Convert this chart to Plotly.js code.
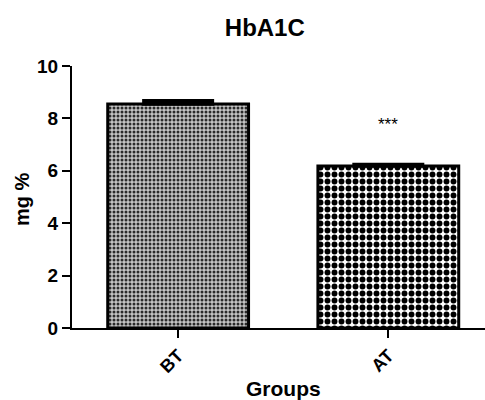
<!DOCTYPE html>
<html>
<head>
<meta charset="utf-8">
<script src="https://cdn.plot.ly/plotly-3.0.1.min.js"></script>
<style>html,body{margin:0;padding:0;background:#fff;}#chart{width:485px;height:400px;}</style>
</head>
<body>
<div id="chart"></div>
<script>
const categories = ["BT", "AT"];
const means = [8.55, 6.18];
const sem = [0.12, 0.06];
const significance = ["", "***"];

const F = "Liberation Sans, Arial, sans-serif";

const traceBT = {
  type: "bar",
  x: [categories[0]],
  y: [means[0]],
  width: 0.67,
  error_y: {type: "data", symmetric: false, array: [sem[0]], arrayminus: [0], visible: true, color: "#000", thickness: 3.5, width: 36},
  marker: {
    color: "#999",
    line: {color: "#000", width: 3},
    pattern: {shape: ".", size: 4, solidity: 0.45, fgcolor: "#2a2a2a", bgcolor: "#c4c4c4", fillmode: "replace"}
  },
  showlegend: false,
  hoverinfo: "skip"
};
const traceAT = {
  type: "bar",
  x: [categories[1]],
  y: [means[1]],
  width: 0.67,
  error_y: {type: "data", symmetric: false, array: [sem[1]], arrayminus: [0], visible: true, color: "#000", thickness: 3.5, width: 36},
  marker: {
    color: "#ffffff",
    line: {color: "#000", width: 3},
    pattern: {shape: ".", size: 7, solidity: 0.55, fgcolor: "#000", bgcolor: "#fff", fillmode: "replace"}
  },
  showlegend: false,
  hoverinfo: "skip"
};

const annotations = categories.map((c, i) => ({
  x: c, y: means[i] + 1.58, xref: "x", yref: "y",
  text: significance[i], showarrow: false,
  font: {family: F, size: 17, color: "#000"}
})).filter(a => a.text);

annotations.push({
  text: "Groups", xref: "paper", yref: "paper", x: 0.511, y: -0.232,
  xanchor: "center", yanchor: "middle", showarrow: false,
  font: {family: F, size: 21, color: "#000", weight: "bold"}
});
annotations.push({
  text: "mg %", xref: "paper", yref: "paper", x: -0.121, y: 0.492,
  xanchor: "center", yanchor: "middle", showarrow: false, textangle: -90,
  font: {family: F, size: 20, color: "#000", weight: "bold"}
});

const layout = {
  width: 485, height: 400,
  margin: {l: 72, r: 0, t: 66, b: 72},
  paper_bgcolor: "#fff", plot_bgcolor: "#fff",
  title: {text: "HbA1C", x: 0.546, xanchor: "center", y: 0.932, yanchor: "middle",
          font: {family: F, size: 24, color: "#000", weight: "bold"}},
  xaxis: {
    type: "category", range: [-0.505, 1.46], automargin: false,
    showline: true, linecolor: "#000", linewidth: 2,
    ticks: "outside", ticklen: 8, tickwidth: 2, tickcolor: "#000",
    tickangle: -45, showgrid: false, zeroline: false,
    tickfont: {family: F, size: 18, color: "#000", weight: "bold"}
  },
  yaxis: {
    range: [0, 10], tickvals: [0, 2, 4, 6, 8, 10], automargin: false,
    showline: true, linecolor: "#000", linewidth: 2,
    ticks: "outside", ticklen: 8, tickwidth: 2, tickcolor: "#000",
    showgrid: false, zeroline: false,
    tickfont: {family: F, size: 19, color: "#000", weight: "bold"}
  },
  annotations: annotations
};

Plotly.newPlot("chart", [traceBT, traceAT], layout, {displayModeBar: false, staticPlot: true});
</script>
</body>
</html>
